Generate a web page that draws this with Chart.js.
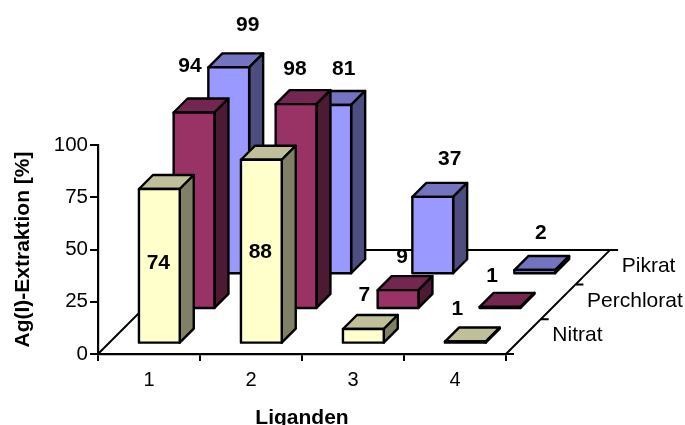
<!DOCTYPE html>
<html>
<head>
<meta charset="utf-8">
<title>Ag(I)-Extraktion</title>
<script src="https://cdn.jsdelivr.net/npm/chart.js@4/dist/chart.umd.min.js"></script>
<style>
    html, body { margin: 0; background: #fff; }
    canvas { display: block; }
</style>
</head>
<body>
<canvas id="extraktionChart" width="685" height="425"></canvas>
<script>
const liganden = ["1", "2", "3", "4"];
const nitrat = [74, 88, 7, 1];
const perchlorat = [94, 98, 9, 1];
const pikrat = [99, 81, 37, 2];
const yTicks = [0, 25, 50, 75, 100];

// front, top and side colour of each row
const faceColors = [
    ["#FFFFCC", "#BFBF99", "#808066"],
    ["#993366", "#732650", "#4D1A33"],
    ["#9999FF", "#7373BF", "#4D4D80"]
];

// the floor runs back at 45 degrees, one slot per row
const slotDepth = 34.7;
const barDepth = 14;
const barGap = (slotDepth - barDepth) / 2;

// where each value sits relative to the front top centre of its bar
const labelOffsets = [
    [[-1, 74], [-1, 92], [1, -34], [-8, -32]],
    [[-4, -46], [-1, -35], [4, -33], [-8, -31]],
    [[19, -42], [13, -36], [17, -38], [6, -37]]
];

const FONT = "'Liberation Sans', Arial, sans-serif";

function poly(ctx, pts, fill) {
    ctx.beginPath();
    pts.forEach((p, i) => i ? ctx.lineTo(p[0], p[1]) : ctx.moveTo(p[0], p[1]));
    ctx.closePath();
    ctx.fillStyle = fill;
    ctx.fill();
    ctx.stroke();
}

const floorPlugin = {
    id: "floor",
    beforeDatasetsDraw(chart) {
        const { ctx, chartArea: a } = chart;
        const depth = slotDepth * chart.data.datasets.length;
        ctx.save();
        ctx.strokeStyle = "#000";
        ctx.lineWidth = 2;
        ctx.beginPath();
        ctx.moveTo(a.left, a.bottom);
        ctx.lineTo(a.left + depth, a.bottom - depth);
        ctx.lineTo(a.right + depth + 8, a.bottom - depth);
        ctx.moveTo(a.right, a.bottom);
        ctx.lineTo(a.right + depth, a.bottom - depth);
        // depth axis ticks
        for (let i = 0; i < chart.data.datasets.length; i++) {
            const d = slotDepth * i;
            ctx.moveTo(a.right + d, a.bottom - d);
            ctx.lineTo(a.right + d + 8, a.bottom - d);
        }
        ctx.stroke();

        ctx.fillStyle = "#000";
        ctx.font = "21px " + FONT;
        ctx.textAlign = "left";
        ctx.textBaseline = "middle";
        chart.data.datasets.forEach((ds, i) => {
            const d = slotDepth * (i + 0.5);
            ctx.fillText(ds.label, a.right + d + 29, a.bottom - d - 1);
        });
        ctx.restore();
    },
    // each row is replaced by 3D boxes built from the bar elements
    beforeDatasetDraw(chart, args) {
        const { ctx } = chart;
        const i = args.index;
        const colors = faceColors[i];
        const shift = barGap + slotDepth * i;
        ctx.save();
        ctx.strokeStyle = "#000";
        ctx.lineWidth = 2.4;
        ctx.lineJoin = "round";
        args.meta.data.forEach((bar) => {
            const l = bar.x - bar.width / 2 + shift;
            const r = bar.x + bar.width / 2 + shift;
            const t = bar.y - shift;
            const b = bar.base - shift;
            poly(ctx, [[l, t], [l + barDepth, t - barDepth], [r + barDepth, t - barDepth], [r, t]], colors[1]);
            poly(ctx, [[r, t], [r + barDepth, t - barDepth], [r + barDepth, b - barDepth], [r, b]], colors[2]);
            poly(ctx, [[l, t], [r, t], [r, b], [l, b]], colors[0]);
        });
        ctx.restore();
        return false;
    },
    afterDatasetsDraw(chart) {
        const { ctx } = chart;
        ctx.save();
        ctx.fillStyle = "#000";
        ctx.font = "bold 21px " + FONT;
        ctx.textAlign = "center";
        ctx.textBaseline = "middle";
        chart.data.datasets.forEach((ds, i) => {
            const shift = barGap + slotDepth * i;
            chart.getDatasetMeta(i).data.forEach((bar, j) => {
                const off = labelOffsets[i][j];
                ctx.fillText(ds.data[j], bar.x + shift + off[0], bar.y - shift + off[1]);
            });
        });
        ctx.restore();
    }
};

new Chart(document.getElementById("extraktionChart"), {
    type: "bar",
    data: {
        labels: liganden,
        datasets: [
            { label: "Nitrat", data: nitrat },
            { label: "Perchlorat", data: perchlorat },
            { label: "Pikrat", data: pikrat }
        ]
    },
    options: {
        responsive: false,
        animation: false,
        layout: { padding: { top: 145, right: 179, left: 0, bottom: 0 } },
        plugins: { legend: { display: false }, tooltip: { enabled: false } },
        datasets: { bar: { grouped: false, categoryPercentage: 1, barPercentage: 0.4 } },
        scales: {
            x: {
                afterFit: (s) => { s.height = 71; },
                grid: { drawOnChartArea: false, color: "#000", lineWidth: 2, tickLength: 7 },
                border: { color: "#000", width: 2.2 },
                ticks: { color: "#000", font: { family: FONT, size: 20 }, padding: 7, maxRotation: 0 },
                title: { display: true, text: "Liganden", color: "#000", font: { family: FONT, size: 21, weight: "bold" }, padding: { top: 0, bottom: -6 } }
            },
            y: {
                min: 0,
                max: 100,
                afterFit: (s) => { s.width = 98; },
                afterBuildTicks: (s) => { s.ticks = yTicks.map((v) => ({ value: v })); },
                grid: { drawOnChartArea: false, color: "#000", lineWidth: 2, tickLength: 8 },
                border: { color: "#000", width: 2.2 },
                ticks: { color: "#000", font: { family: FONT, size: 20.5 }, padding: 2 },
                title: { display: true, text: "Ag(I)-Extraktion [%]", color: "#000", font: { family: FONT, size: 21, weight: "bold" }, padding: { top: 11, bottom: 0 } }
            }
        }
    },
    plugins: [floorPlugin]
});
</script>
</body>
</html>
